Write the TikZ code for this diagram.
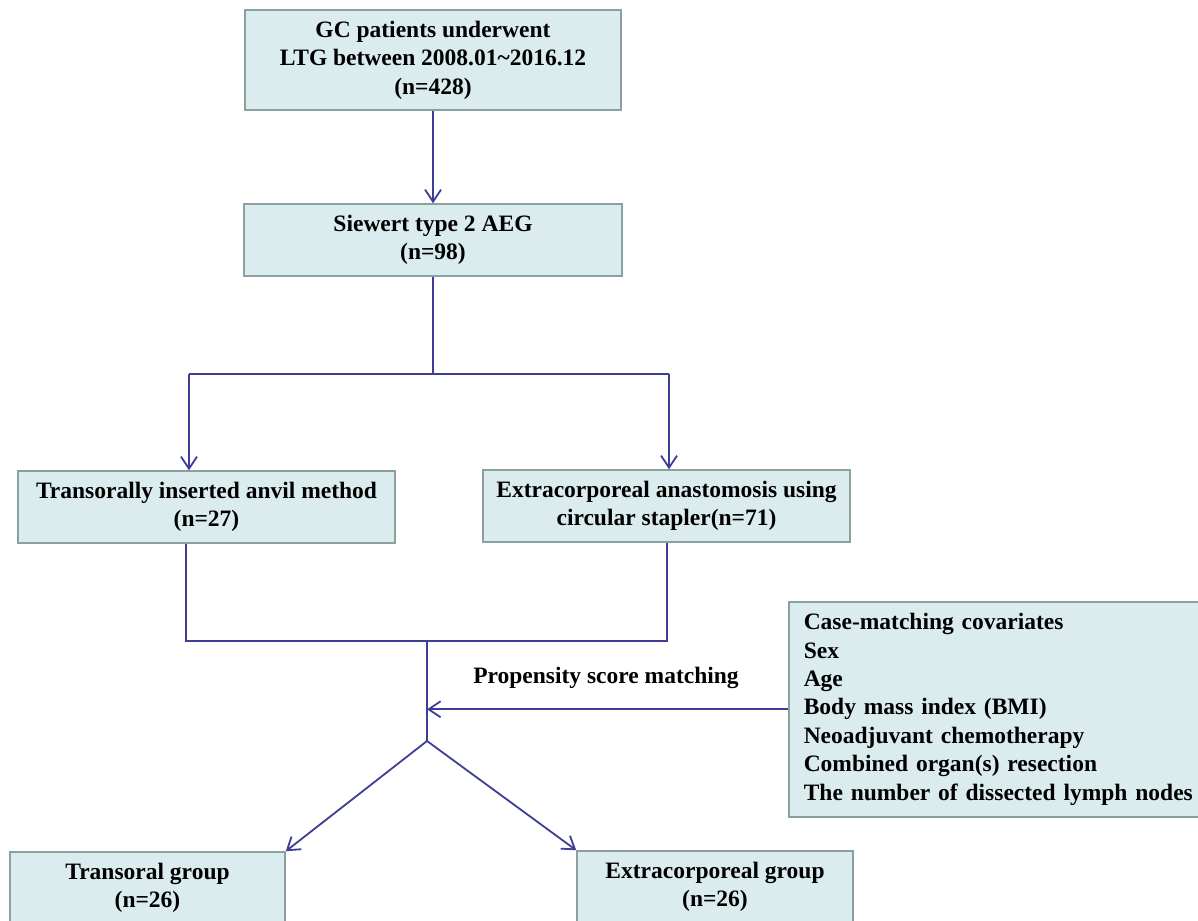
\documentclass[tikz,border=0pt]{standalone}
\usepackage{fontspec}
\setmainfont{Liberation Serif}
\usetikzlibrary{arrows.meta}
\definecolor{boxfill}{RGB}{218,236,238}
\definecolor{boxline}{RGB}{140,160,160}
\definecolor{connc}{RGB}{62,62,150}
\begin{document}
\begin{tikzpicture}[x=1pt,y=-1pt,
  txt/.style={font=\fontsize{23.5}{28.4}\selectfont\bfseries, text=black},
  box/.style={txt, draw=boxline, fill=boxfill, line width=1.5pt, align=center, inner sep=0pt},
  conn/.style={draw=connc, line width=1.8pt},
  arr/.style={conn, -{Straight Barb[length=12pt,width=16pt]}}]
\useasboundingbox (0,0) rectangle (1198,920);
\clip (0,0) rectangle (1198,920);
\node[box, minimum width=376pt, minimum height=100pt] (a) at (433,60)
  {GC patients underwent\\LTG between 2008.01\textasciitilde2016.12\\(n=428)};
\node[box, minimum width=378pt, minimum height=72pt] (b) at (433,240)
  {Siewert type 2 AEG\\(n=98)};
\node[box, minimum width=377pt, minimum height=72pt] (c) at (206.5,507)
  {Transorally inserted anvil method\\(n=27)};
\node[box, minimum width=367pt, minimum height=72pt] (d) at (666.5,506)
  {Extracorporeal anastomosis using\\circular stapler(n=71)};
\node[box, anchor=north west, align=left, text width=395pt, inner xsep=15pt, minimum height=215pt] (cov) at (788,601)
  {Case-matching covariates\\Sex\\Age\\Body mass index (BMI)\\Neoadjuvant chemotherapy\\Combined organ(s) resection\\The number of dissected lymph nodes};
\node[box, minimum width=275pt, minimum height=72pt] (e) at (147.5,888)
  {Transoral group\\(n=26)};
\node[box, minimum width=276pt, minimum height=72pt] (f) at (715,887)
  {Extracorporeal group\\(n=26)};
\node[txt] (psm) at (606,678) {Propensity score matching};

\draw[arr] (a.south) -- (b.north);
\coordinate (j1) at (433,374);
\coordinate (jl) at (189,374);
\coordinate (jr) at (669,374);
\draw[conn] (b.south) -- (j1);
\draw[conn] (jl) -- (jr);
\draw[arr] (jl) -- (jl |- c.north);
\draw[arr] (jr) -- (jr |- d.north);
\coordinate (kl) at (186,641);
\coordinate (kr) at (667,641);
\coordinate (km) at (427,641);
\coordinate (v) at (427,741);
\draw[conn] (c.south -| kl) -- (kl) -- (kr) -- (d.south -| kr);
\draw[conn] (km) -- (v);
\draw[arr] (cov.west) -- (cov.west -| km);
\draw[arr] (v) -- (e.north east);
\draw[arr] (v) -- (f.north west);
\end{tikzpicture}
\end{document}
